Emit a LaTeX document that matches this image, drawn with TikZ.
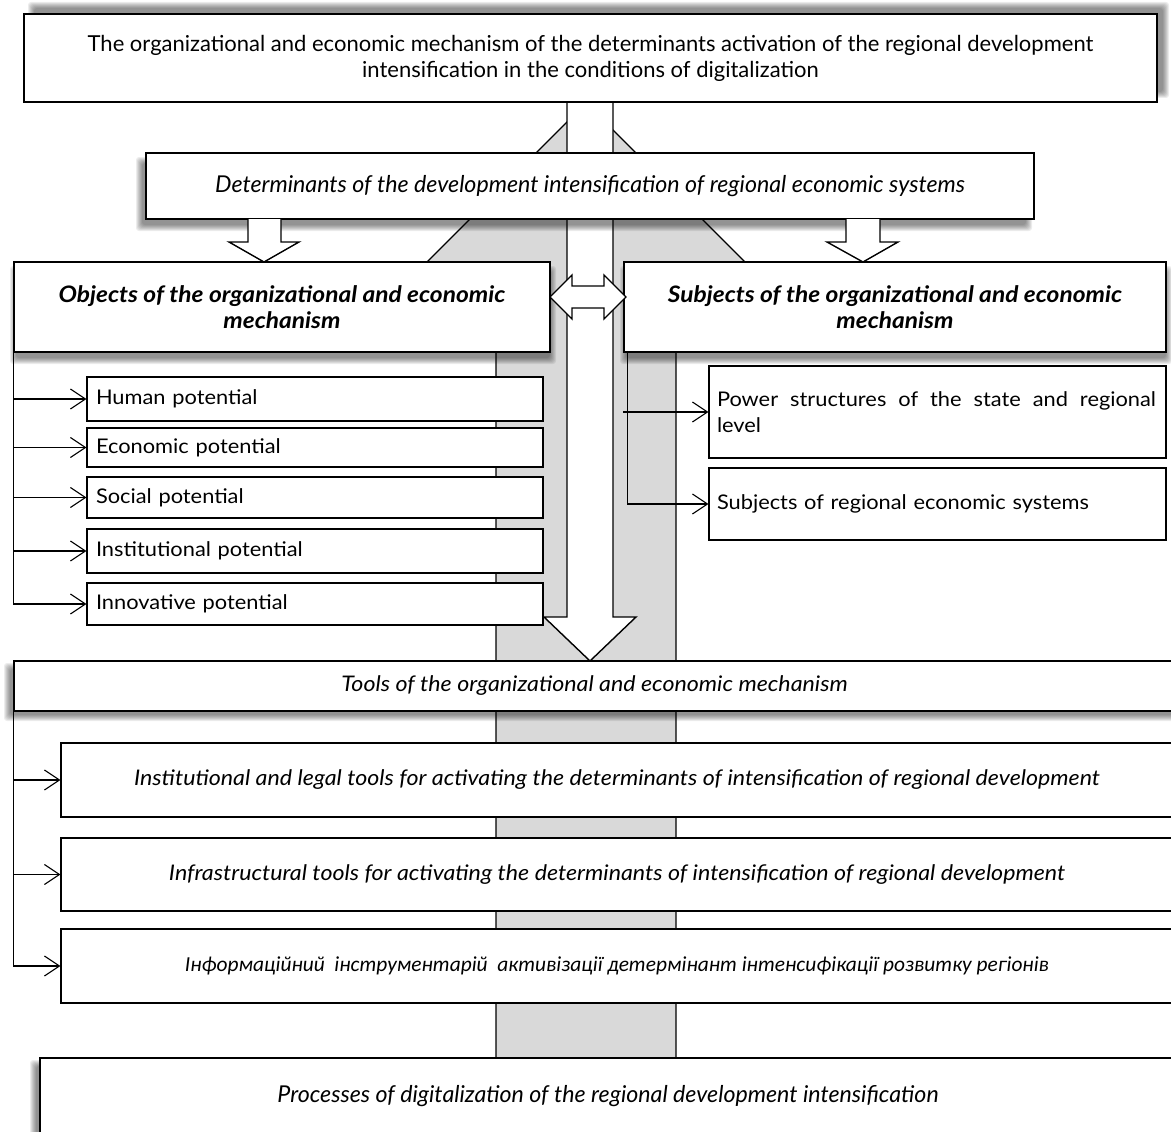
\documentclass[tikz,border=0pt]{standalone}
\usepackage{fontspec}
\setmainfont{Lato}[FakeStretch=1.08]
\newfontfamily\narrow{Lato}
\newfontfamily\ukr{Carlito}
\usetikzlibrary{arrows.meta}
\definecolor{bandgrey}{HTML}{D9D9D9}
\tikzset{
  x=1pt, y=-1pt,
  box/.style={draw=black, line width=1.2pt, fill=white, inner sep=0pt, align=center},
  itembox/.style={box, inner xsep=9pt, align=left, minimum width=456pt, text width=438pt},
  toolbox/.style={box, minimum width=1112pt},
  conn/.style={line width=1.1pt, -{Straight Barb[length=15pt,width=20pt]}},
  blockarrow/.style={draw, line width=1.4pt, fill=white, line join=miter},
  shd/.style={fill=black, opacity=0.075},
  fTop/.style={font=\fontsize{22}{26}\selectfont\narrow},
  fN/.style={font=\fontsize{23.2}{26}\selectfont\narrow\itshape},
  fB/.style={font=\fontsize{22.7}{26}\selectfont\bfseries\itshape},
  fR/.style={font=\fontsize{20.2}{26}\selectfont},
  fT/.style={font=\fontsize{21.5}{26}\selectfont\itshape},
}
\newcommand\softshadow[4]{\foreach \d in {-2,...,4}{\fill[shd, rounded corners=3pt] ({#1-\d},{#2-\d}) rectangle ({#3+\d},{#4+\d});}}
\begin{document}
\begin{tikzpicture}
\useasboundingbox (0,0) rectangle (1171,1132);
\clip (0,0) rectangle (1171,1132);
\fill[white] (0,0) rectangle (1171,1132);
% grey background arrow
\draw[fill=bandgrey, line width=1.2pt] (586,103) -- (760,277) -- (676,277) -- (676,1058) -- (496,1058) -- (496,277) -- (412,277) -- cycle;
% central block arrow (behind the boxes)
\draw[blockarrow] (567,102) -- (567,617) -- (544,617) -- (590,661) -- (636,617) -- (613,617) -- (613,102);
% shadows
\softshadow{32}{6}{1165}{94}
\softshadow{140}{161}{1028}{227}
\softshadow{14}{270}{552}{360}
\softshadow{624}{270}{1168}{360}
\softshadow{8}{667}{1175}{717}
\softshadow{34}{1064}{1176}{1140}
% boxes
\node[box, fTop, minimum width=1133pt, minimum height=88pt] (top) at (590.5,58) {The organizational and economic mechanism of the determinants activation of the regional development\\intensification in the conditions of digitalization};
\node[box, fN, minimum width=888pt, minimum height=66pt] (det) at (590,186) {Determinants of the development intensification of regional economic systems};
\node[box, fB, minimum width=536pt, minimum height=90pt] (obj) at (282,307) {Objects of the organizational and economic\\mechanism};
\node[box, fB, minimum width=542pt, minimum height=90pt] (subj) at (895,307) {Subjects of the organizational and economic\\mechanism};
\node[itembox, fR, minimum height=44pt] (human) at (315,399) {Human potential};
\node[itembox, fR, minimum height=39pt] (econ) at (315,447.5) {Economic potential};
\node[itembox, fR, minimum height=41pt] (social) at (315,497.5) {Social potential};
\node[itembox, fR, minimum height=44pt] (inst) at (315,551) {Institutional potential};
\node[itembox, fR, minimum height=42pt] (innov) at (315,604) {Innovative potential};
\node[box, fR, inner xsep=8pt, align=left, minimum width=457pt, text width=441pt, minimum height=92pt] (power) at (937.5,412) {\leavevmode\hbox to 439pt{Power\hfill structures\hfill of\hfill the\hfill state\hfill and\hfill regional}\\level};
\node[box, fR, inner xsep=8pt, align=left, minimum width=457pt, text width=441pt, minimum height=72pt] (subjreg) at (937.5,504) {Subjects of regional economic systems};
\node[box, fT, minimum width=1161pt, minimum height=50pt] (tools) at (594.5,686) {Tools of the organizational and economic mechanism};
\node[toolbox, fT, minimum height=74pt] (t1) at (617,780) {Institutional and legal tools for activating the determinants of intensification of regional development};
\node[toolbox, fT, minimum height=73pt] (t2) at (617,874.5) {Infrastructural tools for activating the determinants of intensification of regional development};
\node[toolbox, font=\fontsize{21.4}{24}\selectfont\ukr\itshape, minimum height=74pt] (t3) at (617,966) {Інформаційний\ \ інструментарій\ \ активізації детермінант інтенсифікації розвитку регіонів};
\node[box, fN, minimum width=1136pt, minimum height=76pt] (proc) at (608,1096) {Processes of digitalization of the regional development intensification};
% small block arrows
\draw[blockarrow] (248,219) -- (248,242) -- (229,242) -- (264,262) -- (299,242) -- (281,242) -- (281,219);
\draw[blockarrow] (846,219) -- (846,242) -- (827,242) -- (863,262) -- (898,242) -- (880,242) -- (880,219);
% double arrow
\draw[blockarrow] (550,297) -- (572,275) -- (572,286) -- (604,286) -- (604,275) -- (626,297) -- (604,319) -- (604,308) -- (572,308) -- (572,319) -- cycle;
% connectors objects
\draw[conn] (obj.south west) |- (innov.west);
\foreach \n in {human,econ,social,inst}{\draw[conn] (obj.south west |- \n.west) -- (\n.west);}
% connectors subjects
\draw[conn] ([xshift=4pt]subj.south west) |- (subjreg.west);
\draw[conn] (subj.south west |- power.west) -- (power.west);
% connectors tools
\draw[conn] (tools.south west) |- (t3.west);
\foreach \n in {t1,t2}{\draw[conn] (tools.south west |- \n.west) -- (\n.west);}
\end{tikzpicture}
\end{document}
